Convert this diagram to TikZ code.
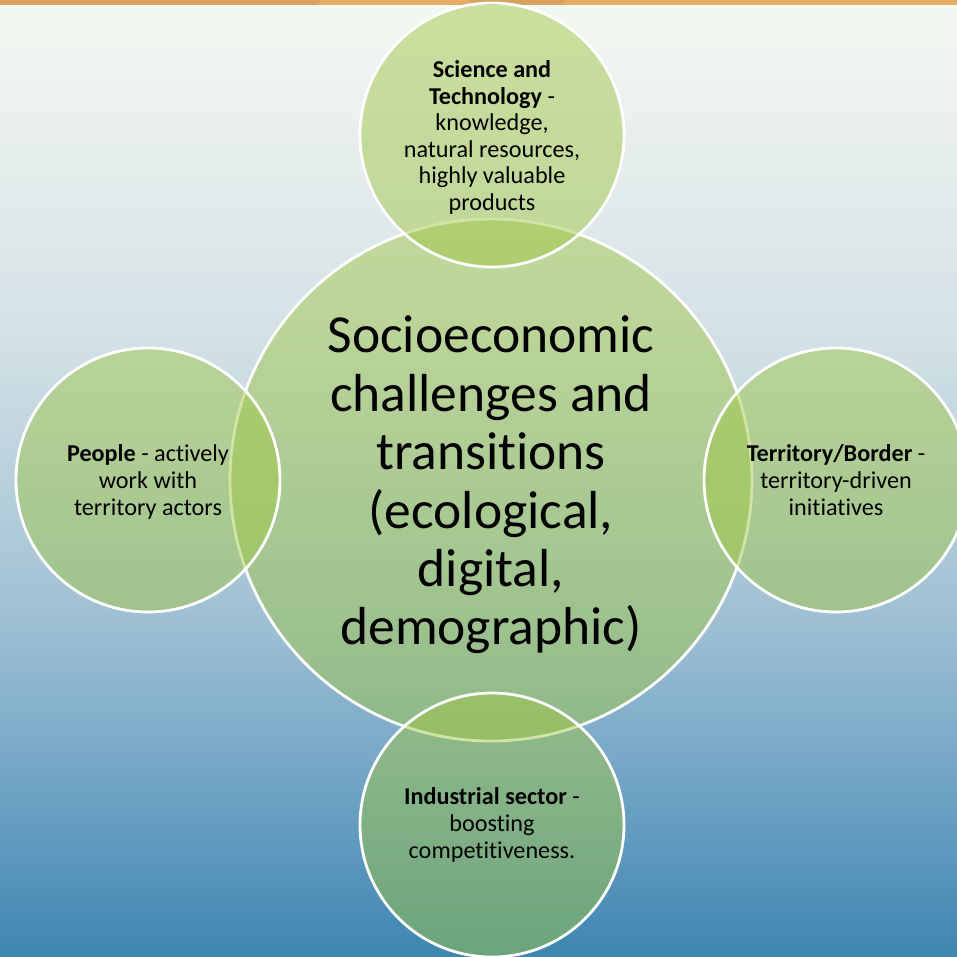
\documentclass[tikz,border=0pt]{standalone}
\usepackage{fontspec}
\setmainfont[Ligatures=NoCommon]{Carlito}

% palette
\definecolor{leaf}{RGB}{159,198,68}
\definecolor{barlight}{RGB}{231,172,99}
\definecolor{bardark}{RGB}{216,161,94}
\definecolor{bgA}{RGB}{61,134,176}
\definecolor{bgB}{RGB}{85,147,187}
\definecolor{bgC}{RGB}{157,191,211}
\definecolor{bgD}{RGB}{212,226,230}
\definecolor{bgE}{RGB}{230,238,236}
\definecolor{bgF}{RGB}{244,248,242}

% sky backdrop, bottom to top
\pgfdeclareverticalshading{sky}{100bp}{%
  color(0bp)=(bgA); color(25bp)=(bgA); color(28.97bp)=(bgB);
  color(42.3bp)=(bgC); color(57.7bp)=(bgD); color(67.2bp)=(bgE);
  color(75bp)=(bgF); color(100bp)=(bgF)}

\tikzset{
  venn/.style={circle, fill=leaf, fill opacity=0.48,
    draw=white, line width=2.8pt, inner sep=0pt},
  small/.style={venn, minimum size=264pt},
  core/.style={venn, minimum size=522pt},
  smalltext/.style={align=center, inner sep=0pt,
    font=\fontsize{24.2}{26.6}\selectfont},
  coretext/.style={align=center, inner sep=0pt,
    font=\fontsize{53.5}{58.4}\selectfont}
}

\begin{document}
\begin{tikzpicture}[x=1pt,y=-1pt]
  \useasboundingbox (0,0) rectangle (957,956);
  \clip (0,0) rectangle (957,956);

  % backdrop
  \shade[shading=sky] (0,0) rectangle (957,956);

  % ribbon along the top edge
  \fill[barlight] (0,0) rectangle (957,4.6);
  \fill[bardark] (0,0) -- (322,0) -- (317,4.6) -- (0,4.6) -- cycle;
  \fill[bardark] (468,0) -- (565,0) -- (562,4.6) -- (474,4.6) -- cycle;

  % central circle
  \node[core] (centre) at (491,480) {};
  \node[coretext] (centretext) at ([yshift=-5pt]centre.center)
    {Socioeconomic\\challenges and\\transitions\\(ecological,\\digital,\\demographic)};

  % surrounding circles, drawn over the central one
  \node[small] (science) at (492,135) {};
  \node[small] (people) at (148,480) {};
  \node[small] (territory) at (836,480) {};
  \node[small] (industry) at (492,825) {};

  % their captions
  \node[smalltext] (sciencetext) at ([yshift=-2.5pt]science.center)
    {\textbf{Science and}\\\textbf{Technology} -\\knowledge,\\natural resources,\\highly valuable\\products};
  \node[smalltext] (peopletext) at ([yshift=-2pt]people.center)
    {\textbf{People} - actively\\work with\\territory actors};
  \node[smalltext] (territorytext) at (territory.center)
    {\textbf{Territory/Border} -\\territory-driven\\initiatives};
  \node[smalltext] (industrytext) at (industry.center)
    {\textbf{Industrial sector} -\\boosting\\competitiveness.};
\end{tikzpicture}
\end{document}
